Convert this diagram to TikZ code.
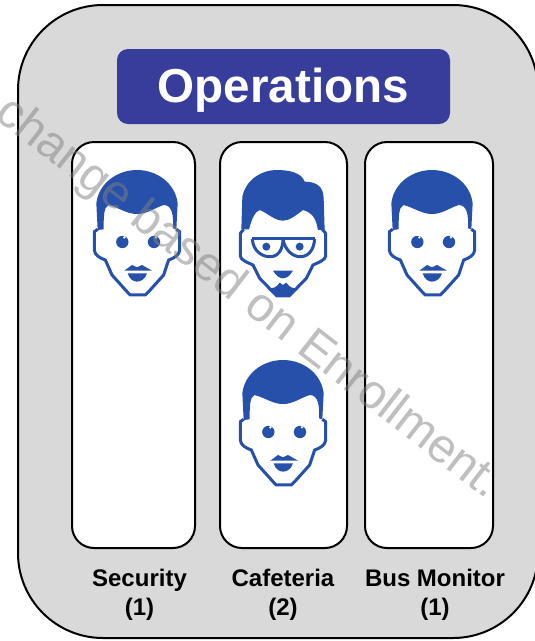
\documentclass[tikz,border=0pt]{standalone}
\usepackage{fontspec}
\setmainfont{Liberation Sans}
\definecolor{panelgray}{HTML}{D9D9D9}
\definecolor{titleblue}{HTML}{383C9B}
\definecolor{faceblue}{HTML}{2650AA}
\definecolor{markgray}{HTML}{808080}
\tikzset{
	x=1pt,y=-1pt,
	panelbox/.style={draw=black,line width=2pt,fill=panelgray,rounded corners=85pt,minimum width=520pt,minimum height=633pt},
	titlebox/.style={fill=titleblue,text=white,rounded corners=11pt,minimum width=333pt,minimum height=75pt,text height=41pt,text depth=10pt,font=\bfseries\fontsize{47.6}{50}\selectfont},
	cardbox/.style={draw=black,line width=2pt,fill=white,rounded corners=22pt,minimum height=406pt},
	deptlabel/.style={align=center,font=\bfseries\fontsize{24}{29}\selectfont},
	markline/.style={text=markgray,opacity=0.5,font=\fontsize{48}{50}\selectfont,rotate=-37.8},
	faceline/.style={draw=faceblue,line width=3pt,line join=round,fill=white},
	glassline/.style={draw=faceblue,line width=3pt,line join=round},
	facefill/.style={fill=faceblue},
	% head without the hair, zoomed units
	pics/headshape/.style={code={
		\path[faceline] (-118,178) -- (-128,185) -- (-128,240) .. controls (-128,255) and (-110,265) .. (-95,270)
			-- (-75,315) -- (-30,365) -- (-20,375) -- (25,375) -- (35,365) -- (80,315)
			-- (95,270) .. controls (110,265) and (128,255) .. (128,240) -- (128,185) -- (118,178);
	}},
	pics/shorthair/.style={code={
		\path[facefill] (-118,180) -- (-122,100) .. controls (-115,40) and (-60,0) .. (0,0)
			.. controls (60,0) and (115,40) .. (122,100) -- (118,178) -- (108,175)
			.. controls (110,135) and (105,105) .. (80,105) .. controls (50,115) and (30,132) .. (0,132)
			.. controls (-30,132) and (-50,115) .. (-85,105) .. controls (-100,110) and (-100,140) .. (-100,178) -- cycle;
	}},
	pics/roundeyes/.style={code={
		\fill[faceblue] (-44,216) circle (18.5);
		\fill[faceblue] (51,216) circle (18.5);
		\fill[white] (-38,202) circle (4);
		\fill[white] (57,202) circle (4);
	}},
	pics/lipshape/.style={code={
		\path[facefill] (-38,302) -- (-15,285) -- (0,292) -- (15,285) -- (45,302) -- cycle;
		\path[facefill] (-28,310) -- (30,310) .. controls (25,328) and (10,335) .. (0,335) .. controls (-10,335) and (-23,328) .. (-28,310) -- cycle;
	}},
}
\begin{document}
\begin{tikzpicture}
	
	\useasboundingbox (0,0) rectangle (535,641);
	\clip (0,0) rectangle (535,641);
	
	\node[panelbox] (panel) at (278,321.5) {};
	\node[titlebox] (title) at (283.5,86.5) {Operations};
	
	\node[cardbox,minimum width=123pt] (security) at (133.5,345) {};
	\node[cardbox,minimum width=127pt] (cafeteria) at (283.5,345) {};
	\node[cardbox,minimum width=128pt] (busmonitor) at (429,345) {};
	
	\node[deptlabel] (securitylabel) at (139.5,595) {Security\\(1)};
	\node[deptlabel] (cafeterialabel) at (283,595) {Cafeteria\\(2)};
	\node[deptlabel] (busmonitorlabel) at (435,595) {Bus Monitor\\(1)};
	
	% plain faces
	\foreach \cx/\cy in {137/170,283/360,432/170}
	{
		\begin{scope}[shift={(\cx,\cy)},scale=0.3333,transform shape]
			\pic {headshape};
			\pic {shorthair};
			\pic {roundeyes};
			\pic {lipshape};
		\end{scope}
	}
	
	% face with the glasses
	\begin{scope}[shift={(283,170)},scale=0.3333]
		\path[faceline] (-118,178) -- (-128,190) -- (-128,258) .. controls (-128,270) and (-105,278) .. (-90,285)
			-- (-70,325) -- (-28,368) -- (-18,378) -- (18,378) -- (28,368) -- (70,325)
			-- (90,285) .. controls (105,278) and (128,270) .. (128,258) -- (128,190) -- (118,178);
		\path[facefill] (-125,178) -- (-122,80) .. controls (-110,25) and (-60,0) .. (-20,0)
			.. controls (20,0) and (55,8) .. (65,35) .. controls (100,35) and (122,50) .. (122,85)
			-- (125,180) -- (105,180) .. controls (100,155) and (95,130) .. (60,120)
			.. controls (40,135) and (20,152) .. (0,152) .. controls (-25,152) and (-45,130) .. (-70,120)
			.. controls (-85,125) and (-95,150) .. (-102,178) -- cycle;
		\path[glassline] (-92,207) -- (95,207);
		\path[glassline] (-92,207) .. controls (-90,245) and (-60,262) .. (-35,260)
			.. controls (-12,258) and (0,235) .. (0,207);
		\path[glassline] (0,207) .. controls (5,240) and (30,262) .. (55,260)
			.. controls (80,258) and (93,235) .. (95,207);
		\fill[faceblue] (-50,230) circle (12);
		\fill[faceblue] (50,230) circle (12);
		\path[facefill] (-30,302) -- (30,302) .. controls (20,318) and (10,325) .. (0,325) .. controls (-10,325) and (-20,318) .. (-30,302) -- cycle;
		\path[facefill] (-50,352) .. controls (-30,360) and (-18,350) .. (-10,338) -- (0,345) -- (10,338)
			.. controls (18,350) and (30,360) .. (50,352) -- (18,378) -- (-18,378) -- cycle;
	\end{scope}
	
	\node[markline] (watermark) at (248,299) {change based on Enrollment.};
	
\end{tikzpicture}
\end{document}
